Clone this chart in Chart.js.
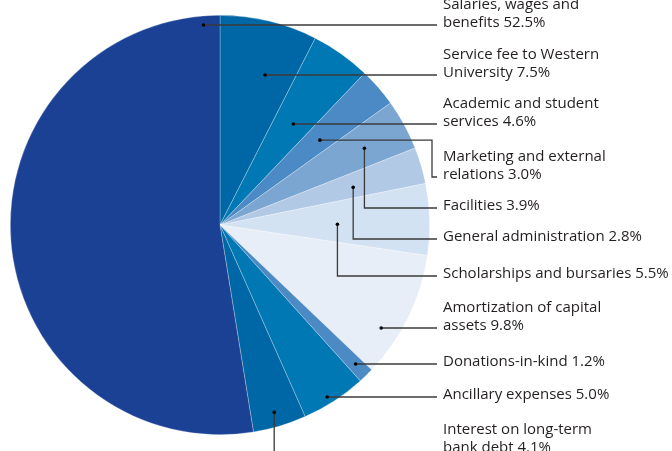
<!DOCTYPE html>
<html>
<head>
    <title>Expenses breakdown</title>
    <script src="https://cdn.jsdelivr.net/npm/chart.js"></script>
    <style>
        html, body { margin: 0; padding: 0; background: #fff; overflow: hidden; }
        #pie { display: block; }
    </style>
</head>
<body>
    <canvas id="pie" width="672" height="451"></canvas>

    <script>
        // slices, clockwise from 12 o'clock
        const categories = [
            'Service fee to Western\nUniversity',
            'Academic and student\nservices',
            'Marketing and external\nrelations',
            'Facilities',
            'General administration',
            'Scholarships and bursaries',
            'Amortization of capital\nassets',
            'Donations-in-kind',
            'Ancillary expenses',
            'Interest on long-term\nbank debt',
            'Salaries, wages and\nbenefits'
        ];
        const values = [7.5, 4.6, 3.0, 3.9, 2.8, 5.5, 9.8, 1.2, 5.0, 4.1, 52.5];
        const colors = ['#0067a6', '#0078b4', '#4b8ac4', '#7ca6d2', '#b1c9e5', '#d3e2f2',
                        '#e8eef7', '#4b8ac4', '#0078b4', '#0067a6', '#1a4193'];

        // leader lines: where the dot sits inside its slice and where the label is
        // [fraction along the slice angle, fraction of radius, label line y, route]
        // route: h = straight across, v = down then across, hv = across, down, across,
        // drop = down past the bottom edge
        const leaders = [
            [0.615, 0.75, 75, 'h'],
            [0.52, 0.60, 124, 'h'],
            [0.56, 0.625, 177, 'hv'],
            [0.54, 0.78, 208, 'v'],
            [0.57, 0.66, 239, 'v'],
            [0.56, 0.56, 276, 'v'],
            [0.69, 0.914, 328, 'h'],
            [0.47, 0.926, 364, 'h'],
            [0.545, 0.96, 397, 'h'],
            [0.53, 0.93, 450, 'drop'],
            [0.975, 0.956, 25, 'h']
        ];
        const elbowX = 432;
        const lineEndX = 437;
        const textX = 443;

        const labelPlugin = {
            id: 'leaderLabels',
            afterDraw(chart) {
                const ctx = chart.ctx;
                const arcs = chart.getDatasetMeta(0).data;
                ctx.save();
                ctx.font = '15px "Open Sans", sans-serif';
                ctx.textAlign = 'left';
                ctx.textBaseline = 'alphabetic';
                arcs.forEach((arc, i) => {
                    const [t, rf, ly, route] = leaders[i];
                    const a = arc.startAngle + t * (arc.endAngle - arc.startAngle);
                    let dx = arc.x + arc.outerRadius * rf * Math.cos(a);
                    let dy = arc.y + arc.outerRadius * rf * Math.sin(a);
                    if (route === 'h') dy = ly;

                    ctx.strokeStyle = '#3a3a3a';
                    ctx.lineWidth = 1.3;
                    ctx.beginPath();
                    ctx.moveTo(dx, dy);
                    if (route === 'hv') {
                        ctx.lineTo(elbowX, dy);
                        ctx.lineTo(elbowX, ly);
                        ctx.lineTo(lineEndX, ly);
                    } else if (route === 'v') {
                        ctx.lineTo(dx, ly);
                        ctx.lineTo(lineEndX, ly);
                    } else if (route === 'drop') {
                        ctx.lineTo(dx, chart.height + 5);
                    } else {
                        ctx.lineTo(lineEndX, ly);
                    }
                    ctx.stroke();

                    ctx.fillStyle = '#000';
                    ctx.beginPath();
                    ctx.arc(dx, dy, 1.8, 0, Math.PI * 2);
                    ctx.fill();

                    const lines = (categories[i] + ' ' + values[i].toFixed(1) + '%').split('\n');
                    ctx.fillStyle = '#231f20';
                    const base = ly + 2;
                    lines.forEach((s, k) => {
                        ctx.fillText(s, textX, base - (lines.length - 1 - k) * 18.5);
                    });
                });
                ctx.restore();
            }
        };

        new Chart(document.getElementById('pie'), {
            type: 'pie',
            data: {
                labels: categories,
                datasets: [{
                    data: values,
                    backgroundColor: colors,
                    borderColor: 'rgba(255,255,255,0.45)',
                    borderWidth: 0.6,
                    hoverOffset: 0,
                    offset: 0
                }]
            },
            options: {
                responsive: false,
                animation: false,
                devicePixelRatio: 1,
                layout: { padding: { left: 10, top: 15, right: 242, bottom: 16 } },
                plugins: {
                    legend: { display: false },
                    tooltip: { enabled: false }
                }
            },
            plugins: [labelPlugin]
        });
    </script>
</body>
</html>
